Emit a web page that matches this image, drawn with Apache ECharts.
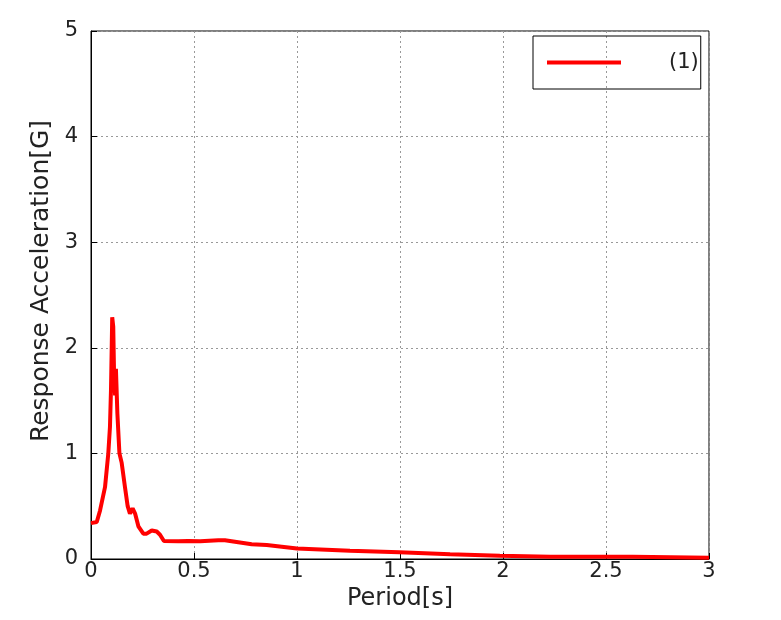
<!DOCTYPE html>
<html>
<head>
<meta charset="utf-8">
<script src="https://cdn.jsdelivr.net/npm/echarts@6/dist/echarts.min.js"></script>
<style>
  html, body { margin: 0; padding: 0; background: #fff; }
  #chart { width: 781px; height: 620px; }
</style>
</head>
<body>
<div id="chart"></div>
<script>
// 周期 [s]
const periods = [
  0, 0.028, 0.044, 0.068, 0.084, 0.092, 0.097, 0.103, 0.108, 0.112, 0.117, 0.121, 0.128,
  0.138, 0.149, 0.165, 0.178, 0.189, 0.202, 0.214, 0.23, 0.254, 0.27, 0.295, 0.319,
  0.335, 0.354, 0.424, 0.47, 0.53, 0.618, 0.65, 0.78, 0.853, 0.926, 1.0, 1.257,
  1.497, 1.743, 1.985, 2.23, 2.63, 3.0
];
// 応答加速度 [G]
const accel = [
  0.34, 0.35, 0.46, 0.68, 1.0, 1.25, 1.6, 2.29, 2.2, 1.75, 1.55, 1.8, 1.38,
  1.0, 0.91, 0.68, 0.5, 0.43, 0.48, 0.43, 0.31, 0.24, 0.24, 0.27, 0.26,
  0.23, 0.17, 0.167, 0.17, 0.167, 0.178, 0.178, 0.14, 0.133, 0.117, 0.10, 0.079,
  0.063, 0.044, 0.031, 0.022, 0.022, 0.012
];
const seriesName = '(1)';

const chart = echarts.init(document.getElementById('chart'));
const font = '"DejaVu Sans", sans-serif';

chart.setOption({
  animation: false,
  textStyle: { fontFamily: font },
  grid: {
    left: 91, right: 72, top: 31, bottom: 61,
    show: true, borderColor: '#000', borderWidth: 1
  },
  legend: {
    left: 533, top: 36,
    orient: 'vertical',
    padding: [16, 2, 16, 14],
    borderColor: '#000', borderWidth: 1,
    itemWidth: 74, itemHeight: 4,
    icon: 'rect',
    textStyle: { fontSize: 21, color: '#222', padding: [0, 0, 0, 43] },
    data: [seriesName]
  },
  xAxis: {
    type: 'value', min: 0, max: 3, interval: 0.5,
    name: 'Period[s]', nameLocation: 'middle', nameGap: 27,
    nameTextStyle: { fontSize: 24, color: '#222' },
    axisLine: { lineStyle: { color: '#000' } },
    axisTick: { inside: true, length: 6, lineStyle: { color: '#000' } },
    axisLabel: { fontSize: 21, color: '#222', margin: 2 },
    splitLine: { lineStyle: { color: '#999', type: [2, 3] } }
  },
  yAxis: {
    type: 'value', min: 0, max: 5, interval: 1,
    name: 'Response Acceleration[G]', nameLocation: 'middle', nameGap: 34,
    nameTextStyle: { fontSize: 25, color: '#222', padding: [0, 0, 0, 28] },
    axisLine: { show: true, lineStyle: { color: '#000' } },
    axisTick: { show: true, inside: true, length: 6, lineStyle: { color: '#000' } },
    axisLabel: { fontSize: 21, color: '#222', margin: 13 },
    splitLine: { lineStyle: { color: '#999', type: [2, 3] } }
  },
  series: [{
    name: seriesName,
    type: 'line',
    data: periods.map((p, i) => [p, accel[i]]),
    showSymbol: false,
    lineStyle: { color: '#ff0000', width: 4 },
    itemStyle: { color: '#ff0000' }
  }]
});
</script>
</body>
</html>
